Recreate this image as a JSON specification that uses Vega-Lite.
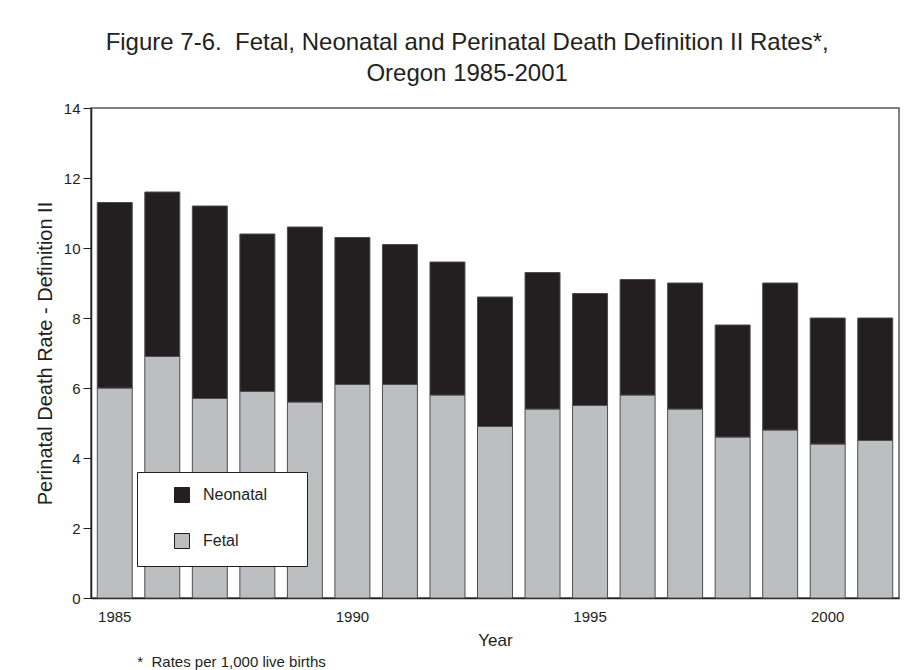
{
  "$schema": "https://vega.github.io/schema/vega-lite/v6.json",
  "padding": {"left": 34, "top": 31, "right": 0, "bottom": 0},
  "background": "white",
  "config": {
    "font": "Liberation Sans",
    "view": {"stroke": "#58595b", "strokeWidth": 1.5},
    "axis": {"labelFont": "Liberation Sans", "titleFont": "Liberation Sans", "labelColor": "#231f20", "titleColor": "#231f20", "domainColor": "#231f20", "tickColor": "#231f20", "titleFontWeight": "normal"}
  },
  "title": {
    "text": ["Figure 7-6.\u00a0 Fetal, Neonatal and Perinatal Death Definition II Rates*,", "Oregon 1985-2001"],
    "font": "Liberation Sans", "fontSize": 24, "fontWeight": "normal", "color": "#231f20",
    "lineHeight": 31, "anchor": "middle", "offset": 14
  },
  "vconcat": [
    {
      "width": 808,
      "height": 490,
      "title": {"text": "*\u00a0 Rates per 1,000 live births", "orient": "bottom", "anchor": "start", "frame": "bounds", "font": "Liberation Sans", "fontSize": 15, "fontWeight": "normal", "color": "#231f20", "dx": 102, "offset": 7},
      "data": {"values": [
        {"year": 1985, "type": "Fetal", "rate": 6.0}, {"year": 1985, "type": "Neonatal", "rate": 5.3},
        {"year": 1986, "type": "Fetal", "rate": 6.9}, {"year": 1986, "type": "Neonatal", "rate": 4.7},
        {"year": 1987, "type": "Fetal", "rate": 5.7}, {"year": 1987, "type": "Neonatal", "rate": 5.5},
        {"year": 1988, "type": "Fetal", "rate": 5.9}, {"year": 1988, "type": "Neonatal", "rate": 4.5},
        {"year": 1989, "type": "Fetal", "rate": 5.6}, {"year": 1989, "type": "Neonatal", "rate": 5.0},
        {"year": 1990, "type": "Fetal", "rate": 6.1}, {"year": 1990, "type": "Neonatal", "rate": 4.2},
        {"year": 1991, "type": "Fetal", "rate": 6.1}, {"year": 1991, "type": "Neonatal", "rate": 4.0},
        {"year": 1992, "type": "Fetal", "rate": 5.8}, {"year": 1992, "type": "Neonatal", "rate": 3.8},
        {"year": 1993, "type": "Fetal", "rate": 4.9}, {"year": 1993, "type": "Neonatal", "rate": 3.7},
        {"year": 1994, "type": "Fetal", "rate": 5.4}, {"year": 1994, "type": "Neonatal", "rate": 3.9},
        {"year": 1995, "type": "Fetal", "rate": 5.5}, {"year": 1995, "type": "Neonatal", "rate": 3.2},
        {"year": 1996, "type": "Fetal", "rate": 5.8}, {"year": 1996, "type": "Neonatal", "rate": 3.3},
        {"year": 1997, "type": "Fetal", "rate": 5.4}, {"year": 1997, "type": "Neonatal", "rate": 3.6},
        {"year": 1998, "type": "Fetal", "rate": 4.6}, {"year": 1998, "type": "Neonatal", "rate": 3.2},
        {"year": 1999, "type": "Fetal", "rate": 4.8}, {"year": 1999, "type": "Neonatal", "rate": 4.2},
        {"year": 2000, "type": "Fetal", "rate": 4.4}, {"year": 2000, "type": "Neonatal", "rate": 3.6},
        {"year": 2001, "type": "Fetal", "rate": 4.5}, {"year": 2001, "type": "Neonatal", "rate": 3.5}
      ]},
      "mark": {"type": "bar", "stroke": "#4d4d4f", "strokeWidth": 1},
      "encoding": {
        "x": {
          "field": "year", "type": "ordinal",
          "scale": {"paddingInner": 0.264, "paddingOuter": 0.132},
          "axis": {"values": [1985, 1990, 1995, 2000], "labelAngle": 0, "ticks": false, "labelPadding": 11, "labelFontSize": 15, "title": "Year", "titleFontSize": 17, "titlePadding": 8, "domainWidth": 1.5}
        },
        "y": {
          "field": "rate", "type": "quantitative", "stack": "zero",
          "scale": {"domain": [0, 14], "nice": false},
          "axis": {"values": [0, 2, 4, 6, 8, 10, 12, 14], "grid": false, "tickSize": 8, "labelPadding": 3, "labelFontSize": 15, "title": "Perinatal Death Rate - Definition II", "titleFontSize": 20, "titlePadding": 8, "domainWidth": 1.5}
        },
        "color": {
          "field": "type", "type": "nominal",
          "scale": {"domain": ["Neonatal", "Fetal"], "range": ["#231f20", "#bcbec0"]},
          "legend": {
            "title": null, "orient": "none", "legendX": 46, "legendY": 364,
            "fillColor": "white", "strokeColor": "#231f20", "padding": 15,
            "symbolType": "square", "symbolSize": 225, "symbolStrokeColor": "#231f20", "symbolStrokeWidth": 1,
            "symbolOffset": 22, "labelOffset": 13, "labelFontSize": 16, "labelColor": "#231f20", "labelFont": "Liberation Sans",
            "rowPadding": 26,
            "labelExpr": "datum.label === 'Neonatal' ? datum.label + '\u2800\u2800' : datum.label"
          }
        },
        "order": {"field": "type", "sort": "ascending"}
      }
    }
  ]
}
